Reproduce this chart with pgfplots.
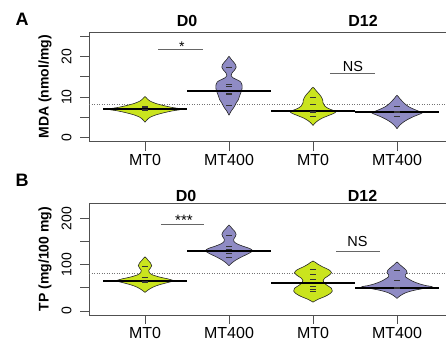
\documentclass[border=0pt]{standalone}
\usepackage{pgfplots}
\pgfplotsset{compat=1.18}
\usepackage{fontspec}
\setmainfont{Liberation Sans}
\definecolor{limeg}{RGB}{202,228,30}
\definecolor{purp}{RGB}{143,139,196}
\definecolor{frame}{RGB}{80,80,80}
\pgfplotsset{
  pir/.style={scale only axis, width=364pt,
    xmin=0.3333, xmax=4.6667,
    xtick={1,2,3,4}, xticklabels={MT0,MT400,MT0,MT400},
    tick align=outside, xtick pos=bottom, ytick pos=left,
    major tick length=9pt,
    axis line style={draw=frame, line width=0.7pt},
    every tick/.style={draw=frame, line width=0.7pt},
    xticklabel style={font=\fontsize{16}{18}\selectfont},
    yticklabel style={rotate=90, anchor=south, font=\fontsize{14}{16}\selectfont},
    yticklabel shift=5pt,
    /pgf/number format/assume math mode=true,
    ylabel style={at={(axis description cs:-0.1209,0.5)}, anchor=center, font=\bfseries\fontsize{14}{16}\selectfont},
  },
  bean/.style={draw=black!85, line width=0.6pt, smooth, tension=0.45, mark=none},
  mline/.style={black, line width=2pt, mark=none},
  gline/.style={black!55, line width=0.75pt, dash pattern=on 1pt off 1.5pt, mark=none},
  sig/.style={black!60, line width=0.8pt, mark=none},
  pts/.style={only marks, mark=-, mark size=2.6pt, mark options={black!80, line width=0.7pt}},
}
\begin{document}
\begin{tikzpicture}[x=1pt,y=1pt]
% ---------------- Panel A ----------------
\begin{axis}[pir, at={(89pt,205.3pt)}, anchor=south west, height=109.7pt,
  ymin=-1, ymax=26, ytick={0,5,...,25}, yticklabels={0,{},10,{},20,{}},
  ylabel={MDA (nmol/mg)}]
\addplot[gline] coordinates {(0.3333,8.3) (4.6667,8.3)};
\addplot[bean, fill=limeg] coordinates {(1,3.8)(1.025,4.4)(1.06,5.0)(1.13,5.6)(1.24,6.2)(1.33,6.6)(1.41,6.85)(1.43,7.0)(1.41,7.15)(1.33,7.4)(1.24,7.8)(1.13,8.4)(1.06,9.0)(1.025,9.6)(1,10.1)(0.975,9.6)(0.94,9.0)(0.87,8.4)(0.76,7.8)(0.67,7.4)(0.59,7.15)(0.57,7.0)(0.59,6.85)(0.67,6.6)(0.76,6.2)(0.87,5.6)(0.94,5.0)(0.975,4.4)(1,3.8)};
\addplot[bean, fill=purp] coordinates {(2,5.5)(2.025,6.5)(2.06,7.5)(2.085,8.5)(2.11,9.3)(2.125,10.2)(2.14,11.0)(2.155,12.0)(2.155,13.0)(2.14,13.7)(2.10,14.2)(2.05,14.7)(2.025,15.3)(2.035,15.9)(2.065,16.6)(2.085,17.3)(2.08,17.9)(2.055,18.6)(2.025,19.3)(2,20.0)(1.975,19.3)(1.945,18.6)(1.92,17.9)(1.915,17.3)(1.935,16.6)(1.965,15.9)(1.975,15.3)(1.95,14.7)(1.90,14.2)(1.86,13.7)(1.845,13.0)(1.845,12.0)(1.86,11.0)(1.875,10.2)(1.89,9.3)(1.915,8.5)(1.94,7.5)(1.975,6.5)(2,5.5)};
\addplot[bean, fill=limeg] coordinates {(3,3.0)(3.025,3.6)(3.06,4.2)(3.11,4.8)(3.18,5.4)(3.24,5.9)(3.27,6.3)(3.24,6.7)(3.18,7.2)(3.14,7.8)(3.12,8.5)(3.115,9.3)(3.10,10.0)(3.07,10.8)(3.035,11.6)(3,12.4)(2.965,11.6)(2.93,10.8)(2.90,10.0)(2.885,9.3)(2.88,8.5)(2.86,7.8)(2.82,7.2)(2.76,6.7)(2.73,6.3)(2.76,5.9)(2.82,5.4)(2.89,4.8)(2.94,4.2)(2.975,3.6)(3,3.0)};
\addplot[bean, fill=purp] coordinates {(4,2.2)(4.03,3.0)(4.075,3.8)(4.13,4.5)(4.20,5.2)(4.26,5.7)(4.30,6.1)(4.26,6.5)(4.20,7.0)(4.14,7.6)(4.095,8.3)(4.06,9.0)(4.03,9.7)(4,10.4)(3.97,9.7)(3.94,9.0)(3.905,8.3)(3.86,7.6)(3.80,7.0)(3.74,6.5)(3.70,6.1)(3.74,5.7)(3.80,5.2)(3.87,4.5)(3.925,3.8)(3.97,3.0)(4,2.2)};
\addplot[pts] coordinates {(1,6.6)(1,7.0)(1,7.4)(1,7.8)
  (2,17.2)(2,13.0)(2,12.6)(2,11.0)(2,10.6)(2,7.9)
  (3,10.0)(3,8.3)(3,6.5)(3,6.1)(3,5.3)
  (4,7.8)(4,6.5)(4,6.1)(4,5.3)};
\addplot[mline] coordinates {(0.5,7.0)(1.5,7.0)};
\addplot[mline] coordinates {(1.5,11.6)(2.5,11.6)};
\addplot[mline] coordinates {(2.5,6.6)(3.5,6.6)};
\addplot[mline] coordinates {(3.5,6.2)(4.5,6.2)};
\addplot[sig] coordinates {(1.155,21.6)(1.69,21.6)};
\addplot[sig] coordinates {(3.202,15.7)(3.738,15.7)};
\node[anchor=base, font=\fontsize{14}{16}\selectfont] at (axis cs:1.44,21.3) {*};
\node[anchor=center, font=\fontsize{14.5}{16}\selectfont] at (axis cs:3.476,17.4) {NS};
\end{axis}
% ---------------- Panel B ----------------
\begin{axis}[pir, at={(89pt,32pt)}, anchor=south west, height=112pt,
  ymin=-9, ymax=234, ytick={0,50,...,200}, yticklabels={0,{},100,{},200},
  ylabel={TP (mg/100 mg)}]
\addplot[gline] coordinates {(0.3333,81.5) (4.6667,81.5)};
\addplot[bean, fill=limeg] coordinates {(1,40)(1.035,45)(1.09,51)(1.16,56)(1.26,61)(1.34,65)(1.28,69)(1.18,73)(1.09,78)(1.05,83)(1.045,88)(1.065,93)(1.08,98)(1.065,104)(1.035,110)(1,117)(0.965,110)(0.935,104)(0.92,98)(0.935,93)(0.955,88)(0.95,83)(0.91,78)(0.82,73)(0.72,69)(0.66,65)(0.74,61)(0.84,56)(0.91,51)(0.965,45)(1,40)};
\addplot[bean, fill=purp] coordinates {(2,98)(2.035,104)(2.08,110)(2.15,117)(2.23,124)(2.28,130)(2.25,135)(2.17,140)(2.10,145)(2.06,150)(2.055,155)(2.075,161)(2.085,166)(2.07,172)(2.035,179)(2,186)(1.965,179)(1.93,172)(1.915,166)(1.925,161)(1.945,155)(1.94,150)(1.90,145)(1.83,140)(1.75,135)(1.72,130)(1.77,124)(1.85,117)(1.92,110)(1.965,104)(2,98)};
\addplot[bean, fill=limeg] coordinates {(3,19)(3.06,25)(3.14,31)(3.20,37)(3.23,43)(3.22,49)(3.17,55)(3.13,61)(3.12,66)(3.14,71)(3.19,77)(3.22,83)(3.19,89)(3.12,95)(3.06,101)(3,108)(2.94,101)(2.88,95)(2.81,89)(2.78,83)(2.81,77)(2.86,71)(2.88,66)(2.87,61)(2.83,55)(2.78,49)(2.77,43)(2.80,37)(2.86,31)(2.94,25)(3,19)};
\addplot[bean, fill=purp] coordinates {(4,27)(4.04,33)(4.10,39)(4.19,44)(4.30,48)(4.42,52)(4.34,55)(4.26,59)(4.19,64)(4.14,69)(4.10,74)(4.10,78)(4.12,83)(4.11,88)(4.075,94)(4.035,100)(4,106)(3.965,100)(3.925,94)(3.89,88)(3.88,83)(3.90,78)(3.90,74)(3.86,69)(3.81,64)(3.74,59)(3.66,55)(3.58,52)(3.70,48)(3.81,44)(3.90,39)(3.96,33)(4,27)};
\addplot[pts] coordinates {(1,96)(1,72)(1,65)(1,61)
  (2,164)(2,139)(2,133)(2,124)(2,117)
  (3,91)(3,80)(3,68)(3,53)(3,47)(3,42)
  (4,87)(4,66)(4,50)(4,48)};
\addplot[mline] coordinates {(0.5,64.5)(1.5,64.5)};
\addplot[mline] coordinates {(1.5,130.6)(2.5,130.6)};
\addplot[mline] coordinates {(2.5,59.5)(3.5,59.5)};
\addplot[mline] coordinates {(3.5,50.3)(4.5,50.3)};
\addplot[sig] coordinates {(1.19,188.5)(1.702,188.5)};
\addplot[sig] coordinates {(3.274,130)(3.798,130)};
\node[anchor=base, font=\fontsize{15}{16}\selectfont] at (axis cs:1.464,184.6) {***};
\node[anchor=center, font=\fontsize{14.5}{16}\selectfont] at (axis cs:3.530,150) {NS};
\end{axis}
% ---------------- titles ----------------
\node[font=\bfseries\fontsize{18}{20}\selectfont] at (22,328) {A};
\node[font=\bfseries\fontsize{18}{20}\selectfont] at (22,167) {B};
\node[font=\bfseries\fontsize{16}{18}\selectfont] at (187,326) {D0};
\node[font=\bfseries\fontsize{16}{18}\selectfont] at (363,326) {D12};
\node[font=\bfseries\fontsize{16}{18}\selectfont] at (186,151.3) {D0};
\node[font=\bfseries\fontsize{16}{18}\selectfont] at (362.5,151.3) {D12};
\pgfresetboundingbox
\path (0,0) rectangle (446,347);
\end{tikzpicture}
\end{document}
